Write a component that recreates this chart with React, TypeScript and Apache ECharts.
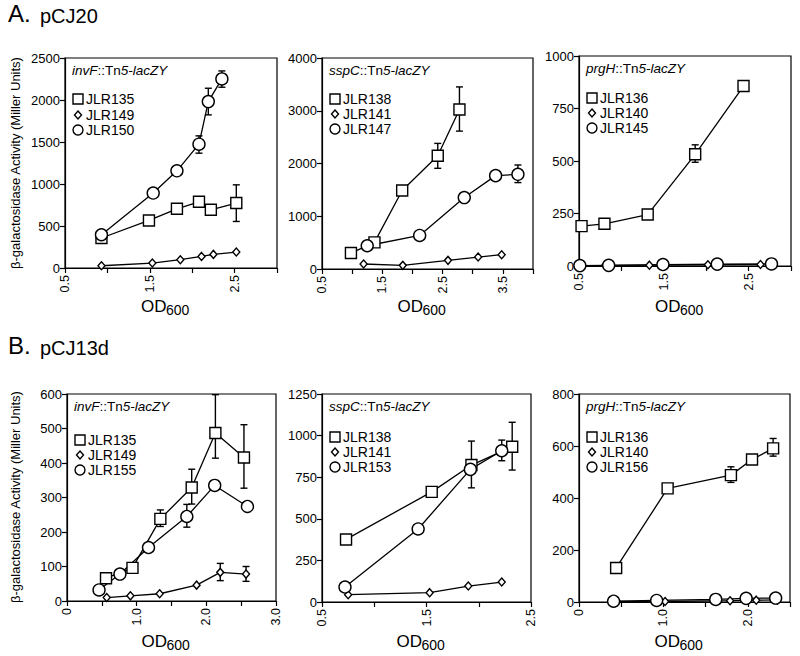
import React, { useEffect, useRef } from "react";
import * as echarts from "echarts";

// ---------- DATA (OD600, Miller units) ----------
// A. pCJ20 — invF::Tn5-lacZY
const A1_JLR135 = [[0.93, 357], [1.49, 566], [1.82, 705], [2.08, 788], [2.22, 693], [2.52, 773]];
const A1_JLR135_err = [[2.52, 554, 990]];
const A1_JLR149 = [[0.93, 27], [1.53, 59], [1.86, 99], [2.11, 138], [2.25, 162], [2.52, 190]];
const A1_JLR150 = [[0.93, 396], [1.54, 892], [1.82, 1157], [2.08, 1474], [2.19, 1981], [2.35, 2251]];
const A1_JLR150_err = [[2.08, 1367, 1573], [2.19, 1823, 2140], [2.35, 2152, 2346]];
// A. pCJ20 — sspC::Tn5-lacZY
const A2_JLR138 = [[0.98, 302], [1.37, 504], [1.83, 1487], [2.42, 2148], [2.78, 3024]];
const A2_JLR138_err = [[2.42, 1909, 2381], [2.78, 2614, 3452]];
const A2_JLR141 = [[1.19, 95], [1.84, 69], [2.59, 164], [3.09, 227], [3.48, 271]];
const A2_JLR147 = [[1.25, 441], [2.12, 636], [2.86, 1354], [3.38, 1770], [3.75, 1795]];
const A2_JLR147_err = [[3.75, 1638, 1972]];
// A. pCJ20 — prgH::Tn5-lacZY
const A3_JLR136 = [[0.53, 190], [0.8, 201], [1.31, 245], [1.87, 532], [2.44, 857]];
const A3_JLR136_err = [[1.87, 494, 577]];
const A3_JLR140 = [[0.5, 2], [0.81, 3], [1.33, 4], [2.02, 6], [2.64, 7]];
const A3_JLR145 = [[0.51, 2], [0.85, 3], [1.49, 7], [2.13, 9], [2.77, 10]];
// B. pCJ13d — invF::Tn5-lacZY
const B1_JLR135 = [[0.56, 66], [0.94, 96], [1.34, 238], [1.79, 329], [2.13, 487], [2.54, 416]];
const B1_JLR135_err = [[1.34, 216, 264], [1.79, 281, 382], [2.13, 414, 598], [2.54, 327, 511]];
const B1_JLR149 = [[0.57, 10], [0.91, 15], [1.33, 21], [1.86, 46], [2.2, 83], [2.57, 78]];
const B1_JLR149_err = [[2.2, 59, 109], [2.57, 57, 100]];
const B1_JLR155 = [[0.46, 32], [0.76, 78], [1.17, 155], [1.72, 245], [2.12, 335], [2.59, 274]];
const B1_JLR155_err = [[1.72, 214, 280]];
// B. pCJ13d — sspC::Tn5-lacZY
const B2_JLR138 = [[0.73, 376], [1.55, 662], [1.93, 823], [2.32, 933]];
const B2_JLR138_err = [[1.93, 686, 967], [2.32, 793, 1080]];
const B2_JLR141 = [[0.75, 44], [1.53, 56], [1.9, 96], [2.22, 120]];
const B2_JLR153 = [[0.72, 90], [1.42, 439], [1.92, 797], [2.22, 909]];
const B2_JLR153_err = [[2.22, 849, 973]];
// B. pCJ13d — prgH::Tn5-lacZY
const B3_JLR136 = [[0.44, 131], [1.05, 437], [1.8, 488], [2.05, 548], [2.3, 591]];
const B3_JLR136_err = [[1.8, 460, 520], [2.3, 561, 629]];
const B3_JLR140 = [[0.45, 1], [1.02, 2], [1.79, 5], [2.1, 7], [2.35, 8]];
const B3_JLR156 = [[0.41, 3], [0.92, 6], [1.62, 10], [1.98, 14], [2.33, 15]];

// axis tick labels
const A_X_LABELS_1 = [0.5, 1.5, 2.5];
const A_X_LABELS_2 = [0.5, 1.5, 2.5, 3.5];
const B_X_LABELS_1 = [0, 1, 2, 3];
const B_X_LABELS_2 = [0.5, 1.5, 2.5];
const B_X_LABELS_3 = [0, 1, 2];

const FONT = "'Liberation Sans', Arial, Helvetica, sans-serif";

type Ser = { name: string; data: number[][]; err?: number[][]; sym: string };
type Panel = {
  left: number; top: number; width: number; height: number;
  xMin: number; xMax: number; xLabels: number[]; zeroPlain: boolean;
  yMax: number; yInt: number; gene: string;
  legY: number[]; series: Ser[];
};

const panels: Panel[] = [
  { left: 65, top: 58, width: 212, height: 210, xMin: 0.5, xMax: 3.0, xLabels: A_X_LABELS_1, zeroPlain: false,
    yMax: 2500, yInt: 500, gene: "invF", legY: [99, 115, 130],
    series: [
      { name: "JLR135", data: A1_JLR135, err: A1_JLR135_err, sym: "rect" },
      { name: "JLR149", data: A1_JLR149, sym: "diamond" },
      { name: "JLR150", data: A1_JLR150, err: A1_JLR150_err, sym: "circle" },
    ] },
  { left: 322, top: 58, width: 211, height: 211, xMin: 0.5, xMax: 4.0, xLabels: A_X_LABELS_2, zeroPlain: false,
    yMax: 4000, yInt: 1000, gene: "sspC", legY: [99, 114, 129],
    series: [
      { name: "JLR138", data: A2_JLR138, err: A2_JLR138_err, sym: "rect" },
      { name: "JLR141", data: A2_JLR141, sym: "diamond" },
      { name: "JLR147", data: A2_JLR147, err: A2_JLR147_err, sym: "circle" },
    ] },
  { left: 579, top: 56, width: 212, height: 210, xMin: 0.5, xMax: 3.0, xLabels: A_X_LABELS_1, zeroPlain: false,
    yMax: 1000, yInt: 250, gene: "prgH", legY: [98, 113, 128],
    series: [
      { name: "JLR136", data: A3_JLR136, err: A3_JLR136_err, sym: "rect" },
      { name: "JLR140", data: A3_JLR140, sym: "diamond" },
      { name: "JLR145", data: A3_JLR145, sym: "circle" },
    ] },
  { left: 67, top: 394, width: 209, height: 207, xMin: 0, xMax: 3.0, xLabels: B_X_LABELS_1, zeroPlain: true,
    yMax: 600, yInt: 100, gene: "invF", legY: [440, 455, 470],
    series: [
      { name: "JLR135", data: B1_JLR135, err: B1_JLR135_err, sym: "rect" },
      { name: "JLR149", data: B1_JLR149, err: B1_JLR149_err, sym: "diamond" },
      { name: "JLR155", data: B1_JLR155, err: B1_JLR155_err, sym: "circle" },
    ] },
  { left: 322, top: 394, width: 209, height: 208, xMin: 0.5, xMax: 2.5, xLabels: B_X_LABELS_2, zeroPlain: false,
    yMax: 1250, yInt: 250, gene: "sspC", legY: [437, 452, 467],
    series: [
      { name: "JLR138", data: B2_JLR138, err: B2_JLR138_err, sym: "rect" },
      { name: "JLR141", data: B2_JLR141, sym: "diamond" },
      { name: "JLR153", data: B2_JLR153, err: B2_JLR153_err, sym: "circle" },
    ] },
  { left: 579, top: 394, width: 211, height: 208, xMin: 0, xMax: 2.5, xLabels: B_X_LABELS_3, zeroPlain: true,
    yMax: 800, yInt: 200, gene: "prgH", legY: [437, 452, 467],
    series: [
      { name: "JLR136", data: B3_JLR136, err: B3_JLR136_err, sym: "rect" },
      { name: "JLR140", data: B3_JLR140, sym: "diamond" },
      { name: "JLR156", data: B3_JLR156, sym: "circle" },
    ] },
];

const symSize = (s: string): any => (s === "rect" ? 11 : s === "circle" ? 12 : [7, 8]);

function buildOption() {
  const grid: any[] = [];
  const xAxis: any[] = [];
  const yAxis: any[] = [];
  const series: any[] = [];
  const graphic: any[] = [];

  panels.forEach((p, i) => {
    grid.push({ left: p.left, top: p.top, width: p.width, height: p.height, show: true,
      borderColor: "#000", borderWidth: 1.2, backgroundColor: "transparent" });
    xAxis.push({
      type: "value", gridIndex: i, min: p.xMin, max: p.xMax, interval: 0.5,
      axisLine: { show: true, onZero: false, lineStyle: { color: "#000", width: 1.2 } },
      axisTick: { show: true, inside: false, length: 5, lineStyle: { color: "#000", width: 1.2 } },
      splitLine: { show: false },
      axisLabel: {
        rotate: 90, margin: 7, color: "#000", fontSize: 12.5, fontFamily: FONT,
        showMinLabel: true, showMaxLabel: true,
        formatter: (v: number) => {
          const hit = p.xLabels.some((l) => Math.abs(l - v) < 1e-6);
          if (!hit) return "";
          if (p.zeroPlain && Math.abs(v) < 1e-6) return "0";
          return v.toFixed(1);
        },
      },
    });
    yAxis.push({
      type: "value", gridIndex: i, min: 0, max: p.yMax, interval: p.yInt,
      axisLine: { show: true, onZero: false, lineStyle: { color: "#000", width: 1.2 } },
      axisTick: { show: true, inside: false, length: 5, lineStyle: { color: "#000", width: 1.2 } },
      splitLine: { show: false },
      axisLabel: { margin: 5, color: "#000", fontSize: 13, fontFamily: FONT, formatter: (v: number) => String(v) },
    });

    p.series.forEach((s) => {
      if (s.err) {
        series.push({
          type: "custom", xAxisIndex: i, yAxisIndex: i, z: 1, clip: false,
          encode: { x: 0, y: [1, 2] },
          data: s.err,
          renderItem: (params: any, api: any) => {
            const x = api.value(0), lo = api.value(1), hi = api.value(2);
            const a = api.coord([x, hi]);
            const b = api.coord([x, lo]);
            const w = 3.5;
            const st = { stroke: "#000", lineWidth: 1.4 };
            return {
              type: "group",
              children: [
                { type: "line", shape: { x1: a[0], y1: a[1], x2: b[0], y2: b[1] }, style: st },
                { type: "line", shape: { x1: a[0] - w, y1: a[1], x2: a[0] + w, y2: a[1] }, style: st },
                { type: "line", shape: { x1: b[0] - w, y1: b[1], x2: b[0] + w, y2: b[1] }, style: st },
              ],
            };
          },
        });
      }
      series.push({
        type: "line", name: p.gene + "-" + s.name, xAxisIndex: i, yAxisIndex: i, z: 3, clip: false,
        data: s.data, symbol: s.sym, symbolSize: symSize(s.sym), showSymbol: true,
        lineStyle: { color: "#000", width: 1.3 },
        itemStyle: { color: "#fff", borderColor: "#000", borderWidth: 1.4 },
        emphasis: { disabled: true },
      });
    });

    // gene annotation
    graphic.push({
      type: "text", x: p.left + 7, y: p.top + 12,
      style: {
        text: "{i|" + p.gene + "}{n|::Tn}{i|5-lacZY}",
        fontSize: 13.5, fontFamily: FONT, fill: "#000",
        rich: {
          i: { fontStyle: "italic", fontSize: 13.5, fontFamily: FONT, fill: "#000", color: "#000" },
          n: { fontSize: 13.5, fontFamily: FONT, fill: "#000", color: "#000" },
        },
        textAlign: "left", textVerticalAlign: "middle", align: "left", verticalAlign: "middle",
      },
    });
    // legend
    p.series.forEach((s, k) => {
      const cy = p.legY[k];
      const cx = p.left + 13;
      const st = { fill: "#fff", stroke: "#000", lineWidth: 1.4 };
      if (s.sym === "rect") graphic.push({ type: "rect", shape: { x: cx - 5, y: cy - 5, width: 10, height: 10 }, style: st });
      else if (s.sym === "circle") graphic.push({ type: "circle", shape: { cx, cy, r: 5 }, style: st });
      else graphic.push({ type: "polygon", shape: { points: [[cx, cy - 4], [cx + 3.5, cy], [cx, cy + 4], [cx - 3.5, cy]] }, style: st });
      graphic.push({
        type: "text", x: p.left + 21, y: cy,
        style: { text: s.name, fontSize: 14, fontFamily: FONT, fill: "#000",
          textAlign: "left", textVerticalAlign: "middle", align: "left", verticalAlign: "middle" },
      });
    });
    // OD600 axis name
    const odX = p.left + p.width / 2 - 30;
    const odY = i < 3 ? 306 : 641;
    graphic.push({ type: "text", x: odX, y: odY,
      style: { text: "OD", fontSize: 17, fontFamily: FONT, fill: "#000", textAlign: "left", textVerticalAlign: "middle", align: "left", verticalAlign: "middle" } });
    graphic.push({ type: "text", x: odX + 25, y: odY + 4,
      style: { text: "600", fontSize: 14, fontFamily: FONT, fill: "#000", textAlign: "left", textVerticalAlign: "middle", align: "left", verticalAlign: "middle" } });
  });

  // y axis titles
  [[15, 163], [15, 497]].forEach(([x, y]) => {
    graphic.push({ type: "text", x, y, rotation: Math.PI / 2,
      style: { text: "β-galactosidase Activity (Miller Units)", fontSize: 13, fontFamily: FONT, fill: "#000",
        textAlign: "center", textVerticalAlign: "middle", align: "center", verticalAlign: "middle" } });
  });
  // panel titles
  [["A.", "pCJ20", 25], ["B.", "pCJ13d", 357]].forEach(([a, b, y]: any) => {
    graphic.push({ type: "text", x: 8, y,
      style: { text: a, fontSize: 24, fontFamily: FONT, fill: "#000", textAlign: "left", textVerticalAlign: "bottom", align: "left", verticalAlign: "bottom" } });
    graphic.push({ type: "text", x: 40, y: y + 1,
      style: { text: b, fontSize: 20, fontFamily: FONT, fill: "#000", textAlign: "left", textVerticalAlign: "bottom", align: "left", verticalAlign: "bottom" } });
  });

  return {
    animation: false,
    backgroundColor: "#fff",
    textStyle: { fontFamily: FONT, color: "#000" },
    tooltip: { show: false },
    grid, xAxis, yAxis, series, graphic,
  };
}

export default function App() {
  const ref = useRef<HTMLDivElement>(null);
  useEffect(() => {
    document.body.style.margin = "0";
    if (!ref.current) return;
    const chart = echarts.init(ref.current, undefined, { renderer: "svg" });
    chart.setOption(buildOption() as any);
    return () => chart.dispose();
  }, []);
  return <div ref={ref} style={{ width: 800, height: 656 }} />;
}
